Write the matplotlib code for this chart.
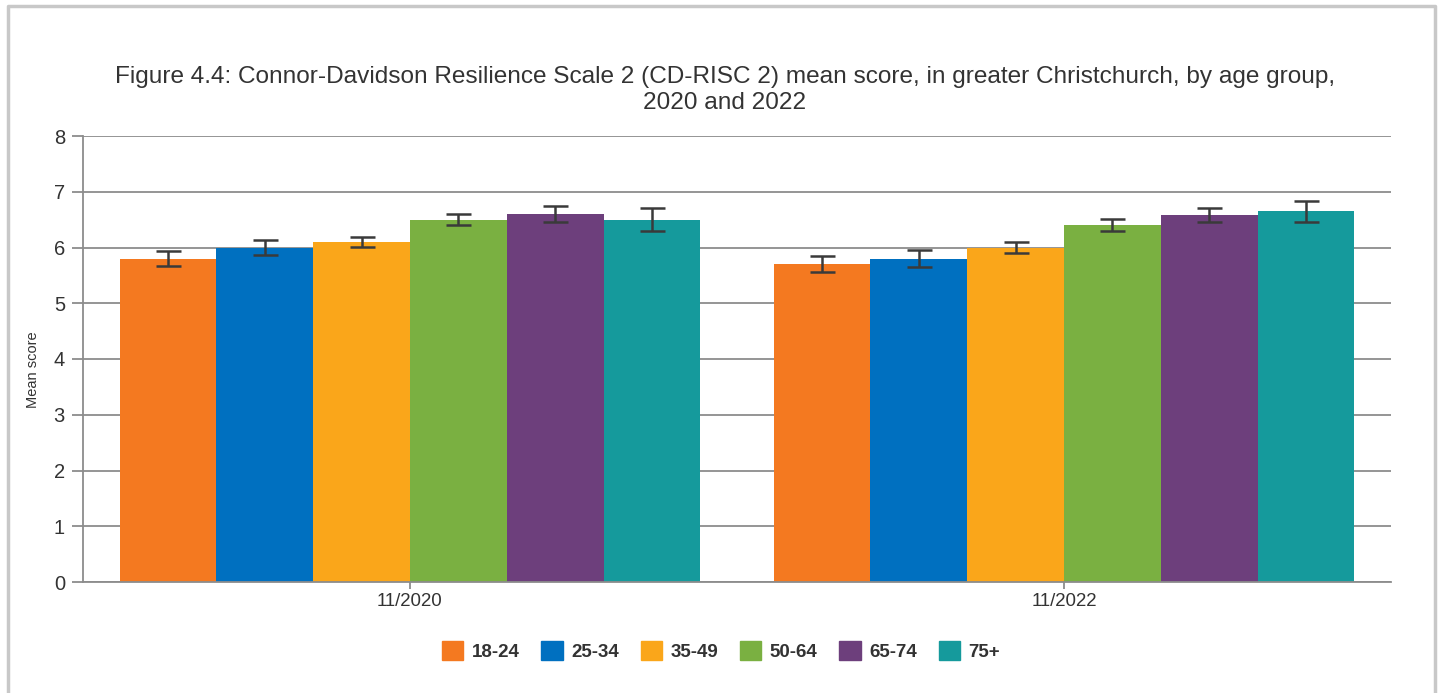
import matplotlib
matplotlib.use("Agg")
import matplotlib.pyplot as plt
import numpy as np
from matplotlib.patches import Rectangle
from matplotlib.lines import Line2D

plt.rcParams['font.family'] = ['Liberation Sans', 'DejaVu Sans']

periods = ["11/2020", "11/2022"]
age_groups = ["18-24", "25-34", "35-49", "50-64", "65-74", "75+"]
means_2020 = [5.8, 6.0, 6.1, 6.5, 6.6, 6.5]
means_2022 = [5.7, 5.8, 6.0, 6.4, 6.58, 6.65]
err_2020 = [0.14, 0.14, 0.09, 0.1, 0.15, 0.2]
err_2022 = [0.14, 0.15, 0.1, 0.11, 0.13, 0.19]
colors = ["#F47920", "#0070C0", "#FAA61A", "#7AB041", "#6D3F7C", "#159A9C"]
yticks = [0, 1, 2, 3, 4, 5, 6, 7, 8]
title = ("Figure 4.4: Connor-Davidson Resilience Scale 2 (CD-RISC 2) mean score, in greater Christchurch, by age group,\n"
         "2020 and 2022")

W, H = 1442, 693
fig = plt.figure(figsize=(W / 100, H / 100), dpi=100)
fig.patch.set_facecolor("white")

# outer border (left, top, right)
bx0, bx1, by0 = 7.5 / W, 1435 / W, 1 - 5.5 / H
fig.add_artist(Line2D([bx0, bx0, bx1, bx1], [0, by0, by0, 0],
                      transform=fig.transFigure, color="#C8C8C8", linewidth=2.5))

ax = fig.add_axes([83 / W, 1 - 582 / H, (1391 - 83) / W, (582 - 136) / H])

means = np.array([means_2020, means_2022])
errs = np.array([err_2020, err_2022])
x = np.arange(len(periods))
n = len(age_groups)
group_w = 0.888
bw = group_w / n
for i, (ag, c) in enumerate(zip(age_groups, colors)):
    xs = x - group_w / 2 + bw * (i + 0.5)
    ax.bar(xs, means[:, i], width=bw, color=c, label=ag, zorder=2)
    ax.errorbar(xs, means[:, i], yerr=errs[:, i], fmt="none", ecolor="#3A3A3A",
                elinewidth=1.8, capsize=9, capthick=1.8, zorder=3)

ax.set_xlim(-0.5, len(periods) - 0.5)
ax.set_ylim(0, 8)
ax.set_yticks(yticks)
ax.set_xticks(x)
ax.set_xticklabels(periods)
ax.yaxis.grid(True, color="#8C8C8C", linewidth=1.3, zorder=0)
ax.set_axisbelow(True)
for s in ["top", "right"]:
    ax.spines[s].set_visible(False)
for s in ["left", "bottom"]:
    ax.spines[s].set_color("#8C8C8C")
    ax.spines[s].set_linewidth(1.3)
ax.tick_params(axis="y", length=8, width=1.3, color="#8C8C8C", labelsize=14.5,
               labelcolor="#333333", pad=5)
ax.tick_params(axis="x", length=5, width=1.3, color="#8C8C8C", labelsize=13.4,
               labelcolor="#333333", pad=3)
ax.set_ylabel("Mean score", fontsize=10.5, color="#333333")
ax.yaxis.set_label_coords(-0.033, 0.475)

fig.text(0.5 + 4 / W, 1 - 90 / H, title, ha="center", va="center", fontsize=17.6,
         color="#333333", linespacing=1.2)

leg = fig.legend([Rectangle((0, 0), 1, 1, color=c) for c in colors], age_groups,
                 loc="center", bbox_to_anchor=(0.5, 1 - 651 / H), ncol=6,
                 frameon=False, handlelength=1.15, handleheight=1.15,
                 handletextpad=0.45, columnspacing=1.15,
                 prop={"weight": "bold", "size": 13.5})
for t in leg.get_texts():
    t.set_color("#333333")

fig.savefig("out.png", dpi=100, facecolor="white")
